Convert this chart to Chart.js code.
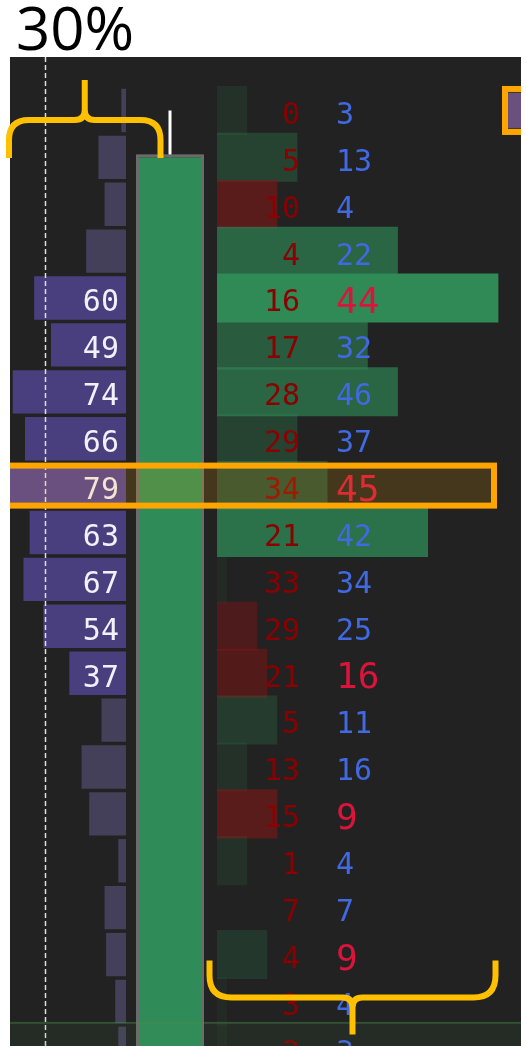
<!DOCTYPE html>
<html><head><meta charset="utf-8">
<script src="https://cdn.jsdelivr.net/npm/chart.js@4.4.1/dist/chart.umd.min.js"></script>
<style>html,body{margin:0;padding:0;background:#fff;overflow:hidden}canvas{display:block}</style>
</head><body>
<canvas id="c" width="526" height="1046"></canvas>
<script>
// ---- data ----
const titleText = '30%';
const prices = [4987.50, 4987.25, 4987.00, 4986.75, 4986.50, 4986.25, 4986.00, 4985.75, 4985.50, 4985.25, 4985.00,
                4984.75, 4984.50, 4984.25, 4984.00, 4983.75, 4983.50, 4983.25, 4983.00, 4982.75, 4982.50];
const bidVol = [0, 5, 10, 4, 16, 17, 28, 29, 34, 21, 33, 29, 21, 5, 13, 15, 1, 7, 4, 3, 2];
const askVol = [3, 13, 4, 22, 44, 32, 46, 37, 45, 42, 34, 25, 16, 11, 16, 9, 4, 7, 9, 4, 3];
const askImbalance = [0, 0, 0, 0, 1, 0, 0, 0, 1, 0, 0, 0, 1, 0, 0, 1, 0, 0, 1, 0, 0];
const valueArea = [0, 0, 0, 0, 1, 1, 1, 1, 1, 1, 1, 1, 1, 0, 0, 0, 0, 0, 0, 0, 0];
const pocIndex = 8;
const lastIndex = 20;
const candleOHLC = [4981.75, 4987.50, 4981.50, 4987.25]; // open, high, low, close
const profileRef = 53;

const totalVol = bidVol.map((b, i) => b + askVol[i]);
const deltaVol = askVol.map((a, i) => a - bidVol[i]);

function deltaColor(d) {
  const m = Math.abs(d);
  if (d >= 0) return 'rgba(47,139,87,' + Math.min(1, 0.04 + 0.034 * m).toFixed(3) + ')';
  return 'rgba(139,20,20,' + Math.min(1, 0.2 + 0.055 * m).toFixed(3) + ')';
}
function profColor(i) {
  if (i === pocIndex) return '#4e4098';
  return valueArea[i] ? '#4a3f7e' : '#45405a';
}

const MONO = '"DejaVu Sans Mono", monospace';

function drawBrace(ctx, x1, x2, yEnd, yBar, yTip, rEnd, rMid) {
  const xc = (x1 + x2) / 2;
  const s = Math.sign(yEnd - yBar); // ends are on this side of the bar
  ctx.beginPath();
  ctx.moveTo(x1, yEnd);
  ctx.lineTo(x1, yBar + s * rEnd);
  ctx.quadraticCurveTo(x1, yBar, x1 + rEnd, yBar);
  ctx.lineTo(xc - rMid, yBar);
  ctx.quadraticCurveTo(xc, yBar, xc, yBar - s * rMid);
  ctx.lineTo(xc, yTip);
  ctx.moveTo(xc, yBar - s * rMid);
  ctx.quadraticCurveTo(xc, yBar, xc + rMid, yBar);
  ctx.lineTo(x2 - rEnd, yBar);
  ctx.quadraticCurveTo(x2, yBar, x2, yBar + s * rEnd);
  ctx.lineTo(x2, yEnd);
  ctx.stroke();
}

const footprintPlugin = {
  id: 'footprint',
  beforeDraw(chart) {
    const {ctx, chartArea: a} = chart;
    ctx.save();
    ctx.fillStyle = '#222222';
    ctx.fillRect(a.left, a.top, a.right - a.left, a.bottom - a.top);
    ctx.restore();
  },
  afterDatasetsDraw(chart) {
    const {ctx, chartArea: a} = chart;
    const y = chart.scales.y, xP = chart.scales.xProf, xD = chart.scales.xDelta;
    ctx.save();
    ctx.beginPath();
    ctx.rect(a.left, a.top, a.right - a.left, a.bottom - a.top);
    ctx.clip();

    // candle
    const [o, h, l, c] = candleOHLC;
    const bx0 = a.left + 129, bx1 = a.left + 191, xc = a.left + 160;
    const yTop = y.getPixelForValue(Math.max(o, c));
    const yBot = y.getPixelForValue(Math.min(o, c));
    ctx.strokeStyle = '#ffffff';
    ctx.lineWidth = 3;
    ctx.beginPath();
    ctx.moveTo(xc, y.getPixelForValue(h));
    ctx.lineTo(xc, yTop);
    ctx.moveTo(xc, yBot);
    ctx.lineTo(xc, y.getPixelForValue(l));
    ctx.stroke();
    ctx.fillStyle = c >= o ? '#2f8c58' : '#8b1a1a';
    ctx.fillRect(bx0, yTop, bx1 - bx0, yBot - yTop);
    ctx.strokeStyle = '#6b6b6b';
    ctx.strokeRect(bx0 - 1.5, yTop - 1.5, bx1 - bx0 + 3, yBot - yTop + 3);

    // dashed reference line on the profile
    const xr = Math.round(xP.getPixelForValue(profileRef)) + 0.5;
    ctx.strokeStyle = '#dddddd';
    ctx.lineWidth = 1.5;
    ctx.setLineDash([5, 3]);
    ctx.beginPath();
    ctx.moveTo(xr, a.top);
    ctx.lineTo(xr, a.bottom);
    ctx.stroke();
    ctx.setLineDash([]);

    // texts
    const x0P = xP.getPixelForValue(0);
    const x0D = xD.getPixelForValue(0);
    ctx.textBaseline = 'alphabetic';
    prices.forEach((p, i) => {
      const yc = y.getPixelForValue(p);
      if (valueArea[i]) {
        ctx.font = '30px ' + MONO;
        ctx.textAlign = 'right';
        ctx.fillStyle = '#f2f0fa';
        ctx.fillText(String(totalVol[i]), x0P - 7, yc + 13.4);
      }
      ctx.font = '30px ' + MONO;
      ctx.textAlign = 'right';
      ctx.fillStyle = '#8b0000';
      ctx.fillText(String(bidVol[i]), x0D + 83, yc + 13.4);
      ctx.textAlign = 'left';
      if (askImbalance[i]) {
        ctx.font = '36px ' + MONO;
        ctx.fillStyle = '#dc143c';
        ctx.fillText(String(askVol[i]), x0D + 119, yc + 15);
      } else {
        ctx.font = '30px ' + MONO;
        ctx.fillStyle = '#4169e1';
        ctx.fillText(String(askVol[i]), x0D + 119, yc + 13.4);
      }
    });

    // last price band
    const yl = y.getPixelForValue(prices[lastIndex]);
    ctx.fillStyle = 'rgba(80,140,80,0.09)';
    ctx.fillRect(a.left, yl - 26.5, a.right - a.left, 53);
    ctx.fillStyle = 'rgba(80,140,80,0.38)';
    ctx.fillRect(a.left, yl - 26.5, a.right - a.left, 2);

    // next column POC marker (top right)
    const y0 = y.getPixelForValue(prices[0]);
    ctx.fillStyle = '#4e4098';
    ctx.fillRect(a.right - 13, y0 - 17.5, 20, 35);
    ctx.fillStyle = 'rgba(255,165,0,0.16)';
    ctx.fillRect(a.right - 16, y0 - 21.5, 30, 43);
    ctx.strokeStyle = '#ffa500';
    ctx.lineWidth = 6;
    ctx.strokeRect(a.right - 16, y0 - 21.5, 30, 43);

    // POC highlight
    const yp = y.getPixelForValue(prices[pocIndex]);
    ctx.fillStyle = 'rgba(255,165,0,0.16)';
    ctx.fillRect(a.left - 20, yp - 20, a.right - 27 - (a.left - 20), 40);
    ctx.strokeRect(a.left - 20, yp - 20, a.right - 27 - (a.left - 20), 40);
    ctx.restore();
  },
  afterDraw(chart) {
    const {ctx, chartArea: a} = chart;
    const y = chart.scales.y;
    ctx.save();
    // title
    ctx.fillStyle = '#000000';
    ctx.font = '60px "Open Sans", "Noto Sans", sans-serif';
    ctx.textAlign = 'left';
    ctx.textBaseline = 'alphabetic';
    ctx.fillText(titleText, a.left + 6, 50);
    // braces
    ctx.strokeStyle = '#ffc000';
    ctx.lineWidth = 6;
    ctx.lineCap = 'butt';
    ctx.lineJoin = 'round';
    const y0 = y.getPixelForValue(prices[0]);
    drawBrace(ctx, a.left - 1, a.left + 150.5, y0 + 47.5, y0 + 9.5, y0 - 30.5, 20, 10);
    const yb = y.getPixelForValue(prices[19]);
    drawBrace(ctx, a.left + 199.5, a.left + 485.5, yb - 41, yb - 4, yb + 33, 22, 10);
    ctx.restore();
  }
};

new Chart(document.getElementById('c'), {
  type: 'bar',
  data: {
    datasets: [
      {
        label: 'Volume profile',
        data: prices.map((p, i) => ({x: totalVol[i], y: p})),
        xAxisID: 'xProf', yAxisID: 'y',
        backgroundColor: prices.map((p, i) => profColor(i)),
        barPercentage: 0.925, categoryPercentage: 1, grouped: false,
        borderWidth: 0, clip: 0
      },
      {
        label: 'Delta',
        data: prices.map((p, i) => ({x: Math.abs(deltaVol[i]), y: p})),
        xAxisID: 'xDelta', yAxisID: 'y',
        backgroundColor: deltaVol.map(deltaColor),
        barPercentage: 1.045, categoryPercentage: 1, grouped: false,
        borderWidth: 0, clip: 0
      }
    ]
  },
  options: {
    indexAxis: 'y',
    responsive: false,
    animation: false,
    devicePixelRatio: 1,
    layout: {padding: {left: 10, right: 5, top: 57, bottom: 0}},
    scales: {
      y: {type: 'linear', display: false, offset: false, min: 4982.5125, max: 4987.785,
          ticks: {stepSize: 0.25, includeBounds: false}, grid: {display: false}},
      xProf: {type: 'linear', axis: 'x', display: false, offset: false, reverse: true, min: -258.2, max: 75.8},
      xDelta: {type: 'linear', axis: 'x', display: false, offset: false, min: -20.6, max: 30.25}
    },
    plugins: {
      legend: {display: false},
      tooltip: {enabled: false},
      title: {display: false}
    }
  },
  plugins: [footprintPlugin]
});
</script>
</body></html>
